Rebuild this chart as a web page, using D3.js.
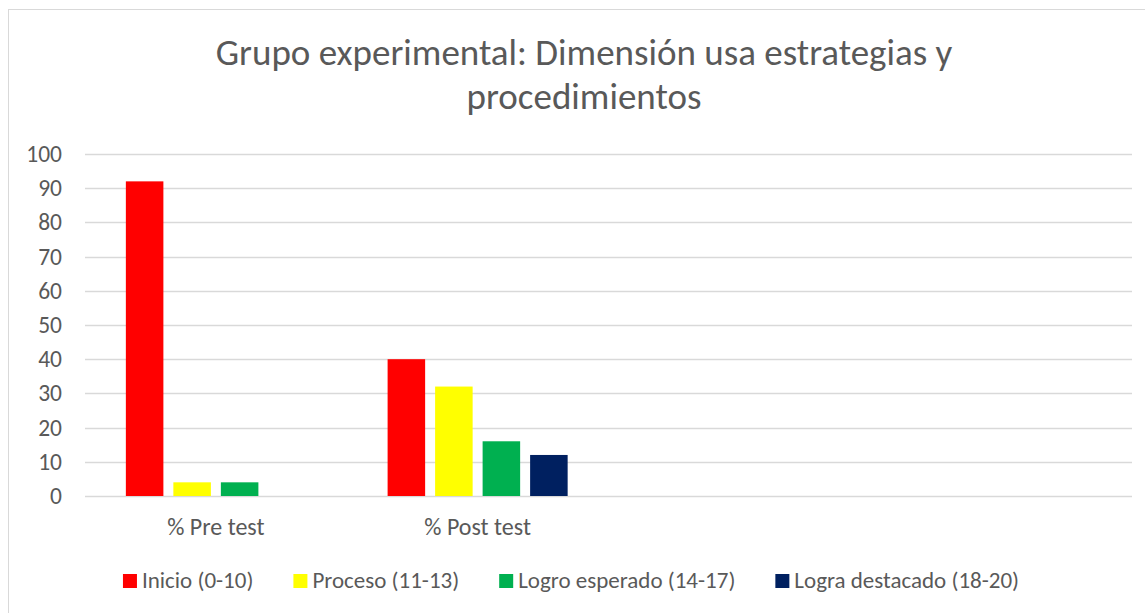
<!DOCTYPE html>
<html>
<head>
<meta charset="utf-8">
<script src="https://cdn.jsdelivr.net/npm/d3@7"></script>
<style>
  body { margin: 0; background: #ffffff; }
  svg { display: block; }
  text { font-family: Carlito, Calibri, "Open Sans", sans-serif; fill: #595959; }
</style>
</head>
<body>
<svg id="chart" width="1145" height="613"></svg>
<script>
  var categories = ['% Pre test', '% Post test', '', ''];
  var seriesNames = ['Inicio (0-10)', 'Proceso (11-13)', 'Logro esperado (14-17)',
                     'Logra destacado (18-20)'];
  var seriesColors = ['#ff0000', '#ffff00', '#00b050', '#002060'];
  var inicio = [92, 40, null, null];
  var proceso = [4, 32, null, null];
  var logroEsperado = [4, 16, null, null];
  var lograDestacado = [0, 12, null, null];
  var yTicks = [0, 10, 20, 30, 40, 50, 60, 70, 80, 90, 100];
  var titleLines = ['Grupo experimental: Dimensión usa estrategias y', 'procedimientos'];

  var series = [inicio, proceso, logroEsperado, lograDestacado];

  var svg = d3.select('#chart');
  var plot = { left: 85, right: 1132, top: 154, bottom: 496 };

  // chart frame
  svg.append('rect')
    .attr('x', 8.5).attr('y', 9.5)
    .attr('width', 1160).attr('height', 640)
    .style('fill', '#ffffff')
    .style('stroke', '#d9d9d9')
    .style('stroke-width', 1);

  // title
  svg.append('text')
    .attr('x', 584)
    .attr('text-anchor', 'middle')
    .style('font-size', '37px')
    .selectAll('tspan')
    .data(titleLines)
    .enter().append('tspan')
    .attr('x', 584)
    .attr('y', function(d, i) { return 65 + i * 44.3; })
    .text(function(d) { return d; });

  var x0 = d3.scaleBand()
    .domain(d3.range(categories.length))
    .range([plot.left, plot.right])
    .padding(0);

  var x1 = d3.scaleBand()
    .domain(d3.range(series.length))
    .range([0, x0.bandwidth()])
    .paddingInner(0.21)
    .paddingOuter(0.86);

  var y = d3.scaleLinear()
    .domain([0, 100])
    .range([plot.bottom, plot.top]);

  // gridlines
  svg.append('g')
    .selectAll('line')
    .data(yTicks)
    .enter().append('line')
    .attr('x1', plot.left)
    .attr('x2', plot.right)
    .attr('y1', function(d) { return Math.round(y(d)) + 0.5; })
    .attr('y2', function(d) { return Math.round(y(d)) + 0.5; })
    .style('stroke', '#d9d9d9')
    .style('stroke-width', 1.3);

  // y axis labels
  var yAxis = d3.axisLeft(y)
    .tickValues(yTicks)
    .tickSize(0)
    .tickPadding(23);
  var yg = svg.append('g')
    .attr('transform', 'translate(' + plot.left + ',0)')
    .call(yAxis);
  yg.select('.domain').remove();
  yg.selectAll('text')
    .style('font-size', '23.5px')
    .style('font-family', null)
    .attr('fill', null);

  // bars
  var groups = svg.append('g')
    .selectAll('g')
    .data(series)
    .enter().append('g')
    .style('fill', function(d, i) { return seriesColors[i]; });

  groups.each(function(vals, s) {
    d3.select(this).selectAll('rect')
      .data(vals.map(function(v, c) { return { v: v, c: c }; })
              .filter(function(d) { return d.v != null && d.v > 0; }))
      .enter().append('rect')
      .attr('x', function(d) { return x0(d.c) + x1(s); })
      .attr('width', x1.bandwidth())
      .attr('y', function(d) { return y(d.v); })
      .attr('height', function(d) { return y(0) - y(d.v); });
  });

  // x axis labels
  var xAxis = d3.axisBottom(x0)
    .tickSize(0)
    .tickPadding(22)
    .tickFormat(function(i) { return categories[i]; });
  var xg = svg.append('g')
    .attr('transform', 'translate(0,' + plot.bottom + ')')
    .call(xAxis);
  xg.select('.domain').remove();
  xg.selectAll('text')
    .style('font-size', '24px')
    .style('font-family', null)
    .attr('fill', null);

  // legend
  var legend = svg.append('g');
  var items = legend.selectAll('g')
    .data(seriesNames)
    .enter().append('g');
  items.append('rect')
    .attr('y', 574)
    .attr('width', 14)
    .attr('height', 14)
    .style('fill', function(d, i) { return seriesColors[i]; });
  items.append('text')
    .attr('x', 19)
    .attr('y', 588)
    .style('font-size', '23px')
    .text(function(d) { return d; });

  var offsets = [];
  var pos = 0;
  var gap = 40;
  items.each(function() {
    offsets.push(pos);
    pos += 19 + d3.select(this).select('text').node().getComputedTextLength() + gap;
  });
  var total = pos - gap;
  var start = 571 - total / 2;
  items.attr('transform', function(d, i) {
    return 'translate(' + (start + offsets[i]) + ',0)';
  });
</script>
</body>
</html>
